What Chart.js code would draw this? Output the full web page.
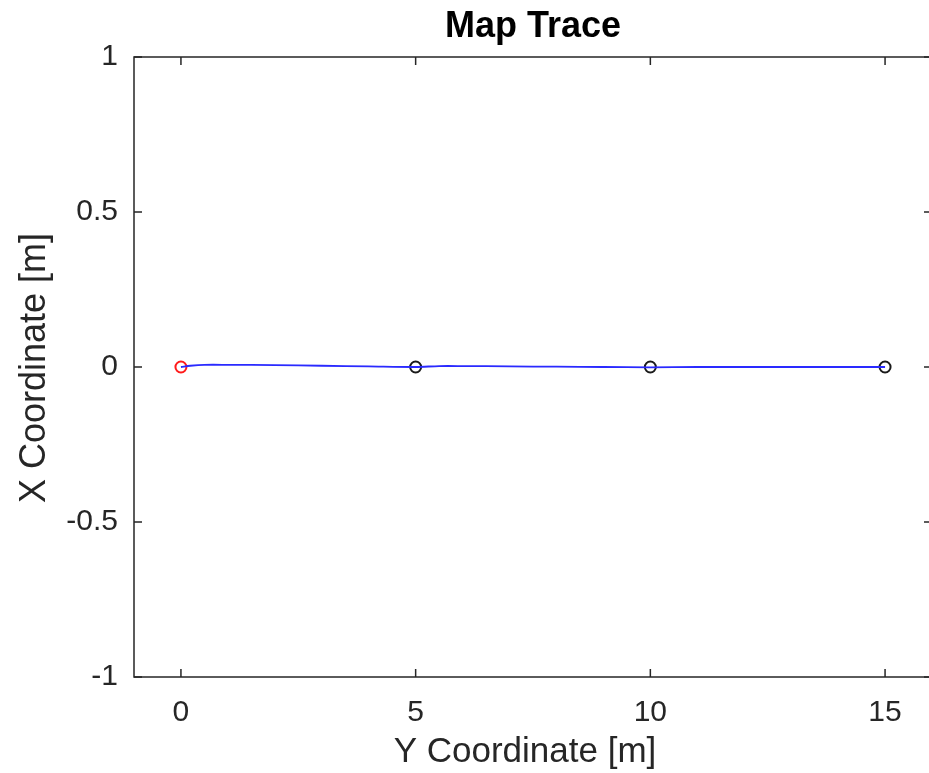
<!DOCTYPE html>
<html>
<head>
<meta charset="utf-8">
<title>Map Trace</title>
<script src="https://cdn.jsdelivr.net/npm/chart.js@4.4.1/dist/chart.umd.min.js"></script>
<style>
html,body{margin:0;padding:0;background:#fff;overflow:hidden}
#wrap{width:929px;height:773px;overflow:hidden}
</style>
</head>
<body>
<div id="wrap"><canvas id="traceChart" width="940" height="773"></canvas></div>
<script>
// ===== DATA =====
// horizontal axis is the robot's Y coordinate, vertical axis its X coordinate
const traceY = [0, 0.2, 0.5, 1, 2, 3, 4, 5, 5.5, 6, 7, 8, 9, 10, 11, 12, 13, 14, 15]
const traceX = [0, 0.004, 0.007, 0.007, 0.006, 0.004, 0.002, 0, 0.003, 0.003, 0.002, 0.001, 0, -0.001, 0, 0, 0, 0, 0]

const startY = [0]
const startX = [0]

const waypointY = [5, 10, 15]
const waypointX = [0, 0, 0]

const xTicks = [0, 5, 10, 15]
const yTicks = [-1, -0.5, 0, 0.5, 1]

const chartTitle = "Map Trace"
const xTitle = "Y Coordinate [m]"
const yTitle = "X Coordinate [m]"

const ink = "#262626"
const fontFamily = "'Liberation Sans', Arial, Helvetica, sans-serif"

function toPoints(xs, ys){
return xs.map((v, i) => ({x: v, y: ys[i]}))
}


// ===== BOX, INWARD TICKS AND TITLES =====
const matlabAxes = {
id: "matlabAxes",
afterDraw(chart){
const ctx = chart.ctx
const a = chart.chartArea
const xs = chart.scales.x
const ys = chart.scales.y
const tl = 8

ctx.save()
ctx.strokeStyle = ink
ctx.lineWidth = 1.5
ctx.strokeRect(a.left, a.top, a.right - a.left, a.bottom - a.top)

ctx.beginPath()
xTicks.forEach(v => {
const px = xs.getPixelForValue(v)
ctx.moveTo(px, a.bottom); ctx.lineTo(px, a.bottom - tl)
ctx.moveTo(px, a.top); ctx.lineTo(px, a.top + tl)
})
yTicks.forEach(v => {
const py = ys.getPixelForValue(v)
ctx.moveTo(a.left, py); ctx.lineTo(a.left + tl, py)
ctx.moveTo(a.right, py); ctx.lineTo(a.right - tl, py)
})
ctx.stroke()

ctx.fillStyle = "#000"
ctx.textAlign = "center"
ctx.textBaseline = "alphabetic"
ctx.font = "bold 36px " + fontFamily
ctx.fillText(chartTitle, (a.left + a.right) / 2, 37)

ctx.fillStyle = ink
ctx.font = "35px " + fontFamily
ctx.fillText(xTitle, 525, 762)

ctx.translate(45, 368)
ctx.rotate(-Math.PI / 2)
ctx.font = "36px " + fontFamily
ctx.fillText(yTitle, 0, 0)
ctx.restore()
}
}


// ===== CHART =====
new Chart(document.getElementById("traceChart"), {
type: "scatter",
data: {
datasets: [
{
label: "trace",
data: toPoints(traceY, traceX),
showLine: true,
borderColor: "#2a2aff",
borderWidth: 1.8,
pointRadius: 0,
tension: 0.3
},
{
label: "start",
data: toPoints(startY, startX),
borderColor: "#ff1a1a",
backgroundColor: "rgba(0,0,0,0)",
borderWidth: 2,
pointRadius: 5.5
},
{
label: "waypoints",
data: toPoints(waypointY, waypointX),
borderColor: "#1a1a1a",
backgroundColor: "rgba(0,0,0,0)",
borderWidth: 2,
pointRadius: 5.5
}
]
},
options: {
responsive: false,
animation: false,
devicePixelRatio: 1,
layout: {padding: {top: 57, right: 8, left: 0, bottom: 0}},
plugins: {legend: {display: false}, tooltip: {enabled: false}, title: {display: false}},
scales: {
x: {
type: "linear",
min: -1,
max: 16,
grid: {display: false, drawTicks: false},
border: {display: false},
afterBuildTicks(scale){ scale.ticks = xTicks.map(v => ({value: v})) },
afterFit(scale){ scale.height = 96 },
ticks: {color: ink, font: {family: fontFamily, size: 30}, padding: 18, maxRotation: 0,
callback: v => String(v)}
},
y: {
type: "linear",
min: -1,
max: 1,
grid: {display: false, drawTicks: false},
border: {display: false},
afterBuildTicks(scale){ scale.ticks = yTicks.map(v => ({value: v})) },
afterFit(scale){ scale.width = 134 },
ticks: {color: ink, font: {family: fontFamily, size: 30}, padding: 16,
callback: v => String(v)}
}
}
},
plugins: [matlabAxes]
})
</script>
</body>
</html>
